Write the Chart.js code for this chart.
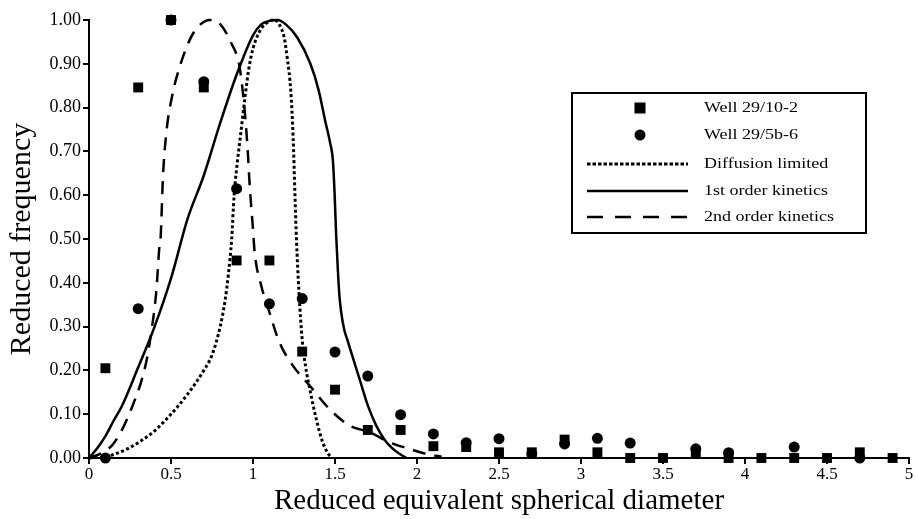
<!DOCTYPE html>
<html><head><meta charset="utf-8">
<script src="https://cdn.jsdelivr.net/npm/chart.js@4.4.0/dist/chart.umd.min.js"></script>
<style>html,body{margin:0;padding:0;background:#fff}#wrap{width:916px;height:519px}</style>
</head><body><div id="wrap"><canvas id="c" width="916" height="519"></canvas></div>
<script>
// ---- tick labels ----
const xTickValues = [0,0.5,1,1.5,2,2.5,3,3.5,4,4.5,5];
const xTickLabels = ['0','0.5','1','1.5','2','2.5','3','3.5','4','4.5','5'];
const yTickValues = [0,0.1,0.2,0.3,0.4,0.5,0.6,0.7,0.8,0.9,1.0];
const yTickLabels = ['0.00','0.10','0.20','0.30','0.40','0.50','0.60','0.70','0.80','0.90','1.00'];

// ---- measured data: Well 29/10-2 (squares) ----
const well1X = [0.1,0.3,0.5,0.7,0.9,1.1,1.3,1.5,1.7,1.9,2.1,2.3,2.5,2.7,2.9,3.1,3.3,3.5,3.7,3.9,4.1,4.3,4.5,4.7,4.9];
const well1Y = [0.205,0.846,1.0,0.846,0.451,0.451,0.243,0.156,0.064,0.064,0.027,0.025,0.013,0.013,0.042,0.013,0.0,0.0,0.011,0.0,0.0,0.0,0.0,0.013,0.0];

// ---- measured data: Well 29/5b-6 (circles) ----
const well2X = [0.1,0.3,0.5,0.7,0.9,1.1,1.3,1.5,1.7,1.9,2.1,2.3,2.5,2.7,2.9,3.1,3.3,3.7,3.9,4.3,4.7];
const well2Y = [0.0,0.341,1.0,0.859,0.615,0.352,0.364,0.242,0.187,0.099,0.055,0.035,0.044,0.010,0.032,0.045,0.034,0.021,0.012,0.025,0.0];

// ---- model: diffusion limited (dotted) ----
const diffX = [0,0.1,0.2,0.3,0.4,0.5,0.6,0.7,0.75,0.8,0.83,0.85,0.87,0.885,0.9,0.925,0.95,0.975,1.0,1.05,1.1,1.13,1.16,1.19,1.21,1.23,1.245,1.255,1.265,1.28,1.3,1.32,1.345,1.385,1.425,1.455,1.48];
const diffY = [0,0.003,0.015,0.035,0.062,0.1,0.145,0.2,0.235,0.3,0.36,0.42,0.5,0.6,0.66,0.74,0.82,0.89,0.935,0.98,0.997,1.0,0.99,0.96,0.91,0.84,0.73,0.61,0.5,0.38,0.27,0.21,0.16,0.09,0.036,0.012,0.0];

// ---- model: 1st order kinetics (solid) ----
const firstX = [0,0.05,0.1,0.15,0.2,0.3,0.4,0.5,0.6,0.7,0.8,0.9,1.0,1.05,1.1,1.15,1.2,1.27,1.35,1.4,1.44,1.47,1.487,1.498,1.507,1.517,1.527,1.537,1.555,1.575,1.6,1.65,1.7,1.75,1.8,1.85,1.9,1.935];
const firstY = [0,0.022,0.05,0.085,0.118,0.207,0.3,0.41,0.545,0.645,0.765,0.875,0.965,0.99,0.998,1.0,0.99,0.96,0.9,0.84,0.77,0.72,0.68,0.6,0.51,0.432,0.37,0.335,0.295,0.27,0.24,0.18,0.12,0.075,0.043,0.022,0.008,0.0];

// ---- model: 2nd order kinetics (dashed) ----
const secondX = [0,0.08,0.156,0.258,0.349,0.38,0.41,0.43,0.437,0.451,0.471,0.506,0.553,0.624,0.68,0.735,0.797,0.868,0.918,0.949,0.969,0.979,0.999,1.01,1.05,1.1,1.16,1.243,1.344,1.466,1.588,1.71,1.83,1.952,2.05,2.15];
const secondY = [0,0.012,0.036,0.112,0.219,0.288,0.379,0.486,0.505,0.642,0.741,0.825,0.893,0.962,0.99,1.0,0.992,0.947,0.893,0.794,0.695,0.627,0.527,0.47,0.394,0.333,0.265,0.211,0.166,0.112,0.074,0.059,0.036,0.021,0.01,0.003];

const pts = (xs, ys) => xs.map((x, i) => ({x, y: ys[i]}));
const FONT = "'Liberation Serif', 'Times New Roman', serif";

const legendPlugin = {
  id: 'boxLegend',
  afterDraw(chart) {
    const ctx = chart.ctx;
    ctx.save();
    ctx.lineWidth = 2;
    ctx.strokeStyle = '#000';
    ctx.strokeRect(572, 93, 294, 140);
    const rowsY = [108, 135, 164, 191, 217];
    ctx.font = '15px ' + FONT;
    ctx.fillStyle = '#000';
    ctx.textBaseline = 'middle';
    chart.data.datasets.forEach((ds, i) => {
      const y = rowsY[i];
      if (ds.showLine) {
        ctx.beginPath();
        ctx.lineWidth = ds.borderWidth;
        ctx.setLineDash(ds.legendDash || []);
        ctx.moveTo(587, y); ctx.lineTo(688, y);
        ctx.stroke();
        ctx.setLineDash([]);
      } else {
        ctx.beginPath();
        if (ds.pointStyle === 'rect') {
          ctx.rect(640 - 5.5, y - 5.5, 11, 11);
        } else {
          ctx.arc(640, y, 5.5, 0, Math.PI * 2);
        }
        ctx.fill();
      }
      ctx.save();
      ctx.translate(704, y);
      ctx.scale(1.2, 1);
      ctx.fillText(ds.label, 0, 0);
      ctx.restore();
    });
    ctx.restore();
  }
};

new Chart(document.getElementById('c'), {
  type: 'scatter',
  data: {
    datasets: [
      {label: 'Well 29/10-2', data: pts(well1X, well1Y), pointStyle: 'rect', pointRadius: 7, backgroundColor: '#000', borderColor: '#000', borderWidth: 0, showLine: false, clip: false},
      {label: 'Well 29/5b-6', data: pts(well2X, well2Y), pointStyle: 'circle', pointRadius: 5.5, backgroundColor: '#000', borderColor: '#000', borderWidth: 0, showLine: false, clip: false},
      {label: 'Diffusion limited', data: pts(diffX, diffY), showLine: true, borderColor: '#000', borderWidth: 3, borderDash: [3, 2.5], legendDash: [3.5, 2], pointRadius: 0, cubicInterpolationMode: 'monotone', clip: false},
      {label: '1st order kinetics', data: pts(firstX, firstY), showLine: true, borderColor: '#000', borderWidth: 2.5, pointRadius: 0, cubicInterpolationMode: 'monotone', clip: false},
      {label: '2nd order kinetics', data: pts(secondX, secondY), showLine: true, borderColor: '#000', borderWidth: 2.5, borderDash: [13, 9], legendDash: [16, 12], pointRadius: 0, cubicInterpolationMode: 'monotone', clip: false}
    ]
  },
  options: {
    responsive: false,
    animation: false,
    devicePixelRatio: 1,
    layout: {padding: {left: 0, right: 6, top: 20, bottom: 0}},
    plugins: {legend: {display: false}, tooltip: {enabled: false}},
    scales: {
      x: {
        type: 'linear', min: 0, max: 5,
        afterBuildTicks: s => { s.ticks = xTickValues.map(v => ({value: v})); },
        afterFit: s => { s.height = 61; },
        ticks: {callback: (v, i) => xTickLabels[i], color: '#000', font: {family: FONT, size: 17}, padding: 0, maxRotation: 0, autoSkip: false},
        grid: {display: true, drawOnChartArea: false, drawTicks: true, tickLength: 6, color: '#000', lineWidth: 2},
        border: {display: true, color: '#000', width: 2},
        title: {display: true, text: 'Reduced equivalent spherical diameter', color: '#000', font: {family: FONT, size: 29}, padding: {top: 0, bottom: 0}}
      },
      y: {
        type: 'linear', min: 0, max: 1,
        afterBuildTicks: s => { s.ticks = yTickValues.map(v => ({value: v})); },
        afterFit: s => { s.width = 89; },
        ticks: {callback: (v, i) => yTickLabels[i], color: '#000', font: {family: FONT, size: 18}, padding: 2, autoSkip: false},
        grid: {display: true, drawOnChartArea: false, drawTicks: true, tickLength: 6, color: '#000', lineWidth: 2},
        border: {display: true, color: '#000', width: 2},
        title: {display: true, text: 'Reduced frequency', color: '#000', font: {family: FONT, size: 30}, padding: {top: 4, bottom: 0}}
      }
    }
  },
  plugins: [legendPlugin]
});
</script></body></html>
